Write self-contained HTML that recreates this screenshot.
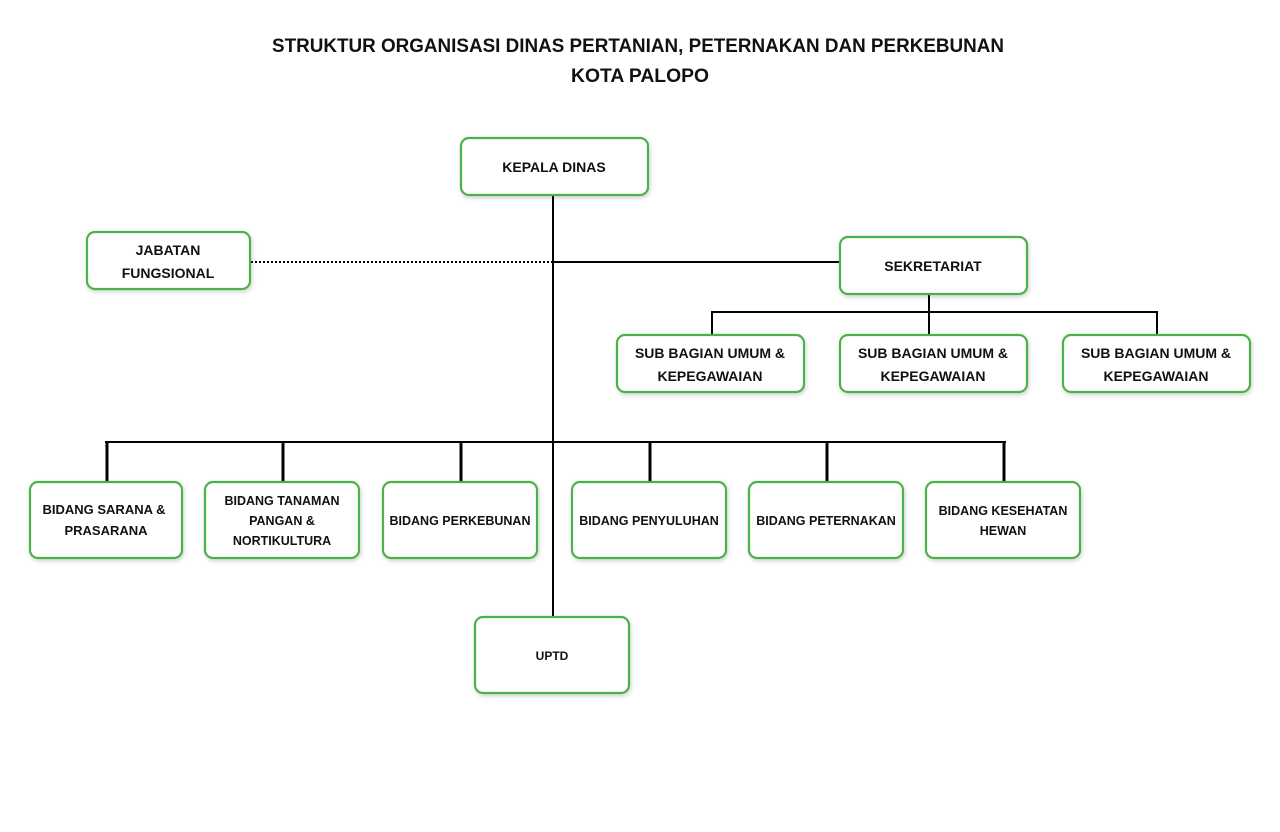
<!DOCTYPE html>
<html><head><meta charset="utf-8"><style>
html,body{margin:0;padding:0;background:#fff;}
svg{display:block;}
text{font-family:"Liberation Sans",sans-serif;font-weight:bold;fill:#111;text-anchor:middle;}
.b{fill:#fff;stroke:#4bb247;stroke-width:2.2;filter:url(#sh);}
.l{stroke:#000;stroke-width:2;fill:none;}
.t{stroke:#000;stroke-width:3;fill:none;}
</style></head><body>
<svg width="1280" height="832" viewBox="0 0 1280 832" xmlns="http://www.w3.org/2000/svg">
<defs><filter id="sh" x="-10%" y="-20%" width="120%" height="150%"><feDropShadow dx="1" dy="2" stdDeviation="2" flood-color="#000" flood-opacity="0.18"/></filter></defs>
<text x="638" y="52" font-size="19" textLength="732" lengthAdjust="spacingAndGlyphs">STRUKTUR ORGANISASI DINAS PERTANIAN, PETERNAKAN DAN PERKEBUNAN</text>
<text x="640" y="82" font-size="19" textLength="138" lengthAdjust="spacingAndGlyphs">KOTA PALOPO</text>

<!-- lines -->
<line class="l" x1="553" y1="195" x2="553" y2="617"/>
<line x1="251" y1="262" x2="553" y2="262" stroke="#000" stroke-width="2" stroke-dasharray="2,2"/>
<line class="l" x1="553" y1="262" x2="840" y2="262"/>
<line class="l" x1="929" y1="294" x2="929" y2="335"/>
<polyline class="l" points="712,334 712,312 1157,312 1157,334"/>
<line class="l" x1="105" y1="442" x2="1006" y2="442"/>
<line class="t" x1="107" y1="442" x2="107" y2="482"/>
<line class="t" x1="283" y1="442" x2="283" y2="482"/>
<line class="t" x1="461" y1="442" x2="461" y2="482"/>
<line class="t" x1="650" y1="442" x2="650" y2="482"/>
<line class="t" x1="827" y1="442" x2="827" y2="482"/>
<line class="t" x1="1004" y1="442" x2="1004" y2="482"/>

<!-- boxes -->
<rect class="b" x="461" y="138" width="187" height="57" rx="8"/>
<text x="554" y="172" font-size="14">KEPALA DINAS</text>

<rect class="b" x="87" y="232" width="163" height="57" rx="8"/>
<text x="168" y="255" font-size="14">JABATAN</text>
<text x="168" y="278" font-size="14">FUNGSIONAL</text>

<rect class="b" x="840" y="237" width="187" height="57" rx="8"/>
<text x="933" y="271" font-size="14">SEKRETARIAT</text>

<rect class="b" x="617" y="335" width="187" height="57" rx="8"/>
<text x="710" y="358" font-size="14">SUB BAGIAN UMUM &amp;</text>
<text x="710" y="381" font-size="14">KEPEGAWAIAN</text>
<rect class="b" x="840" y="335" width="187" height="57" rx="8"/>
<text x="933" y="358" font-size="14">SUB BAGIAN UMUM &amp;</text>
<text x="933" y="381" font-size="14">KEPEGAWAIAN</text>
<rect class="b" x="1063" y="335" width="187" height="57" rx="8"/>
<text x="1156" y="358" font-size="14">SUB BAGIAN UMUM &amp;</text>
<text x="1156" y="381" font-size="14">KEPEGAWAIAN</text>

<rect class="b" x="30" y="482" width="152" height="76" rx="8"/>
<text x="104" y="514" font-size="13">BIDANG SARANA &amp;</text>
<text x="106" y="535" font-size="13">PRASARANA</text>
<rect class="b" x="205" y="482" width="154" height="76" rx="8"/>
<text x="282" y="505" font-size="12.5">BIDANG TANAMAN</text>
<text x="282" y="525" font-size="12.5">PANGAN &amp;</text>
<text x="282" y="545" font-size="12.5">NORTIKULTURA</text>
<rect class="b" x="383" y="482" width="154" height="76" rx="8"/>
<text x="460" y="525" font-size="12.5">BIDANG PERKEBUNAN</text>
<rect class="b" x="572" y="482" width="154" height="76" rx="8"/>
<text x="649" y="525" font-size="12.5">BIDANG PENYULUHAN</text>
<rect class="b" x="749" y="482" width="154" height="76" rx="8"/>
<text x="826" y="525" font-size="12.5">BIDANG PETERNAKAN</text>
<rect class="b" x="926" y="482" width="154" height="76" rx="8"/>
<text x="1003" y="515" font-size="12.5">BIDANG KESEHATAN</text>
<text x="1003" y="535" font-size="12.5">HEWAN</text>

<rect class="b" x="475" y="617" width="154" height="76" rx="8"/>
<text x="552" y="660" font-size="12">UPTD</text>
</svg>
</body></html>
